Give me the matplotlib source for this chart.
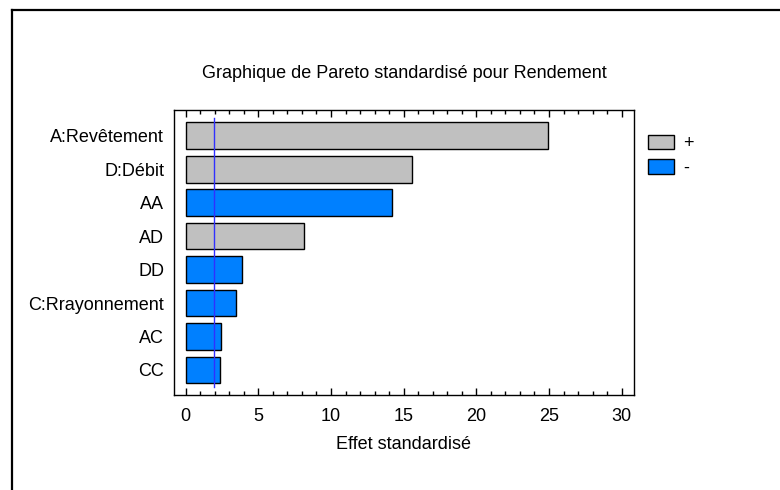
import matplotlib
matplotlib.use("Agg")
import matplotlib.pyplot as plt
from matplotlib.lines import Line2D
from matplotlib.patches import Patch
from matplotlib.ticker import MultipleLocator

plt.rcParams['font.family'] = ['Liberation Sans', 'DejaVu Sans']

categories = ["A:Revêtement", "D:Débit", "AA", "AD", "DD", "C:Rrayonnement", "AC", "CC"]
effects = [24.9, 15.6, 14.2, 8.15, 3.86, 3.49, 2.46, 2.39]
signs = ["+", "+", "-", "+", "-", "-", "-", "-"]
critical_value = 1.97
title = "Graphique de Pareto standardisé pour Rendement"
xlabel = "Effet standardisé"
xticks = [0, 5, 10, 15, 20, 25, 30]

colors = {"+": "#c0c0c0", "-": "#0080ff"}
FS = 13.0

W, H = 780, 490
fig = plt.figure(figsize=(W / 100, H / 100), dpi=100)

# outer frame (clipped at right/bottom)
fig.add_artist(Line2D([12 / W, 1.0], [1 - 10 / H, 1 - 10 / H], color="black", lw=1.6,
                      transform=fig.transFigure))
fig.add_artist(Line2D([12 / W, 12 / W], [0.0, 1 - 10 / H], color="black", lw=1.6,
                      transform=fig.transFigure))

ax = fig.add_axes([174 / W, 1 - 395 / H, (634 - 174) / W, (395 - 110) / H])
ypos = list(range(len(categories)))
ax.barh(ypos, effects, height=0.8, left=0,
        color=[colors[s] for s in signs], edgecolor="black", linewidth=1.0, zorder=2)
ax.plot([critical_value, critical_value], [-0.53, len(categories) - 0.49],
        color="#3030ff", lw=1.0, zorder=3)

ax.set_xlim(-0.8, 30.85)
ax.set_ylim(len(categories) - 0.25, -0.77)
ax.set_yticks(ypos)
ax.set_yticklabels(categories, fontsize=FS)
ax.set_xticks(xticks)
ax.set_xticklabels([str(t) for t in xticks], fontsize=FS)
ax.xaxis.set_minor_locator(MultipleLocator(1))
ax.tick_params(axis="x", which="major", direction="in", length=5, top=True, width=1, pad=9)
ax.tick_params(axis="x", which="minor", direction="in", length=3, top=True, width=1)
ax.tick_params(axis="y", which="both", length=0, pad=7)
for s in ax.spines.values():
    s.set_linewidth(1.0)
ax.set_xlabel(xlabel, fontsize=FS, labelpad=8)

fig.text(404 / W, 1 - 73 / H, title, ha="center", va="center", fontsize=FS)

handles = [Patch(facecolor=colors["+"], edgecolor="black", label="+"),
           Patch(facecolor=colors["-"], edgecolor="black", label="-")]
fig.legend(handles=handles, loc="upper left", bbox_to_anchor=(648 / W, 1 - 135 / H),
           frameon=False, fontsize=FS, handlelength=1.45, handleheight=0.85,
           handletextpad=0.5, labelspacing=0.38, borderaxespad=0, borderpad=0)

fig.savefig("out.png", dpi=100)
